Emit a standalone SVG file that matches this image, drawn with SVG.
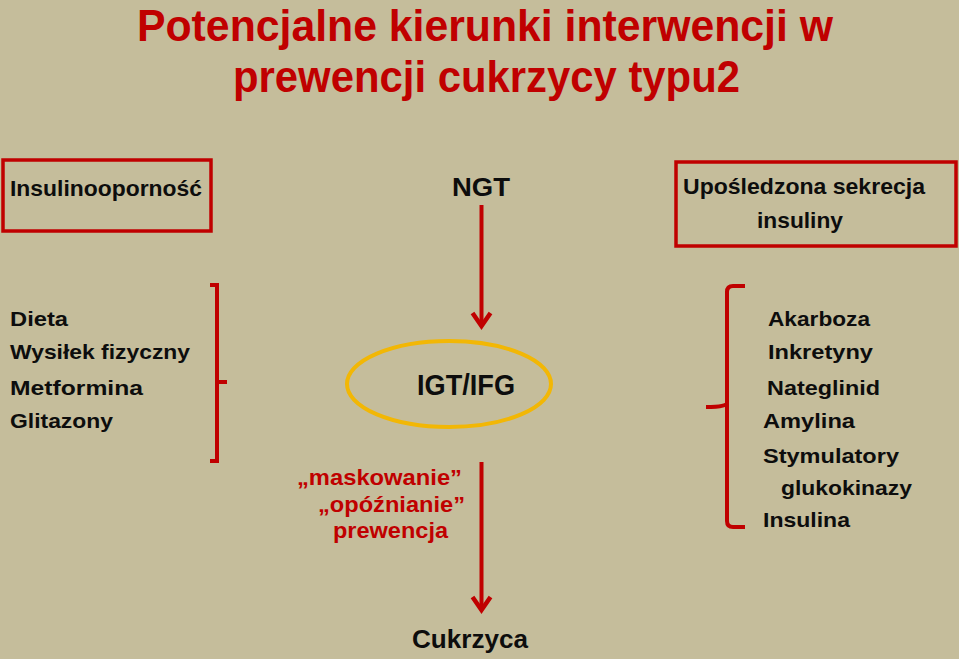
<svg xmlns="http://www.w3.org/2000/svg" width="959" height="659" viewBox="0 0 959 659">
<style>
text{font-family:"Liberation Sans","Open Sans",sans-serif;font-weight:bold;fill:#0d0d0d}
.red{fill:#c00000}
.box{fill:none;stroke:#c00000;stroke-width:3.5}
.ln{fill:none;stroke:#c00000;stroke-width:4;stroke-linecap:butt}
.head{fill:none;stroke:#c00000;stroke-width:4.5;stroke-linejoin:miter}
.lst{font-size:21px}
</style>
<rect width="959" height="659" fill="#c5bd9b"/>
<g id="title">
<text class="red" x="137" y="41" font-size="45" textLength="696" lengthAdjust="spacingAndGlyphs">Potencjalne kierunki interwencji w</text>
<text class="red" x="233" y="92" font-size="45" textLength="507" lengthAdjust="spacingAndGlyphs">prewencji cukrzycy typu2</text>
</g>
<g id="insulinoopornosc">
<rect class="box" x="3" y="160" width="208" height="71"/>
<text x="10" y="196" font-size="22" textLength="192" lengthAdjust="spacingAndGlyphs">Insulinooporność</text>
</g>
<g id="ngt">
<text x="452" y="196" font-size="26" textLength="58" lengthAdjust="spacingAndGlyphs">NGT</text>
</g>
<g id="uposledzona">
<rect class="box" x="676" y="162" width="280" height="84"/>
<text x="683" y="194" font-size="22" textLength="242" lengthAdjust="spacingAndGlyphs">Upośledzona sekrecja</text>
<text x="757" y="228" font-size="22" textLength="86" lengthAdjust="spacingAndGlyphs">insuliny</text>
</g>
<g id="lewa-lista">
<text class="lst" x="10" y="326" textLength="58" lengthAdjust="spacingAndGlyphs">Dieta</text>
<text class="lst" x="10" y="359" textLength="180" lengthAdjust="spacingAndGlyphs">Wysiłek fizyczny</text>
<text class="lst" x="10" y="395" textLength="133" lengthAdjust="spacingAndGlyphs">Metformina</text>
<text class="lst" x="10" y="428" textLength="103" lengthAdjust="spacingAndGlyphs">Glitazony</text>
</g>
<g id="igt-ifg">
<ellipse cx="449" cy="384" rx="102" ry="43" fill="none" stroke="#f2b705" stroke-width="4"/>
<text x="417" y="395" font-size="29" textLength="98" lengthAdjust="spacingAndGlyphs">IGT/IFG</text>
</g>
<g id="prawa-lista">
<text class="lst" x="768" y="326" textLength="102" lengthAdjust="spacingAndGlyphs">Akarboza</text>
<text class="lst" x="768" y="359" textLength="105" lengthAdjust="spacingAndGlyphs">Inkretyny</text>
<text class="lst" x="767" y="395" textLength="113" lengthAdjust="spacingAndGlyphs">Nateglinid</text>
<text class="lst" x="763" y="428" textLength="92" lengthAdjust="spacingAndGlyphs">Amylina</text>
<text class="lst" x="763" y="463" textLength="136" lengthAdjust="spacingAndGlyphs">Stymulatory</text>
<text class="lst" x="781" y="495" textLength="131" lengthAdjust="spacingAndGlyphs">glukokinazy</text>
<text class="lst" x="763" y="527" textLength="87" lengthAdjust="spacingAndGlyphs">Insulina</text>
</g>
<g id="strategie">
<text class="red" x="297" y="485" font-size="22" textLength="165" lengthAdjust="spacingAndGlyphs">„maskowanie”</text>
<text class="red" x="318" y="512" font-size="22" textLength="147" lengthAdjust="spacingAndGlyphs">„opóźnianie”</text>
<text class="red" x="333" y="538" font-size="22" textLength="115" lengthAdjust="spacingAndGlyphs">prewencja</text>
</g>
<g id="cukrzyca">
<text x="412" y="648" font-size="26" textLength="116" lengthAdjust="spacingAndGlyphs">Cukrzyca</text>
</g>
<g id="connectors">
<line class="ln" x1="481.5" y1="205" x2="481.5" y2="325"/>
<polyline class="head" points="472.5,313 481.5,326 490.5,313"/>
<line class="ln" x1="481.5" y1="462" x2="481.5" y2="609"/>
<polyline class="head" points="472.5,597 481.5,610 490.5,597"/>
<path class="ln" d="M210,285 H217 V461 H210 M217,382 H227"/>
<path class="ln" d="M745,286 H733 Q727,286 727,292 V403 Q727,407 706,407 M727,403 V521 Q727,527 733,527 H745"/>
</g>
</svg>
